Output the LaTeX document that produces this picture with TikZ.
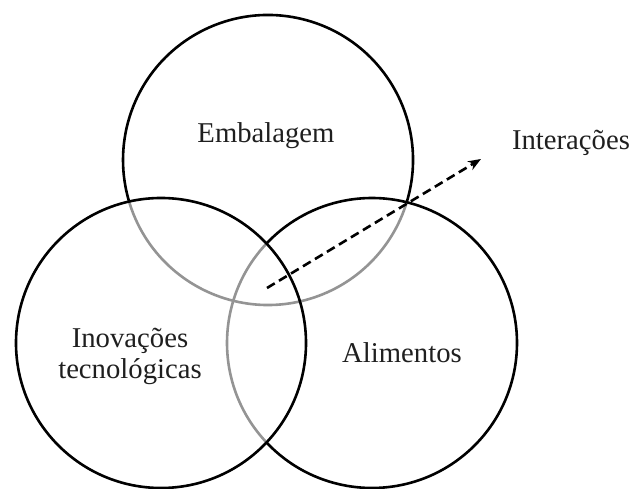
\documentclass[tikz,border=0pt]{standalone}
\usepackage{fontspec}
\setmainfont{Liberation Serif}
\usetikzlibrary{arrows.meta}
\begin{document}
\begin{tikzpicture}[x=1pt,y=1pt,
  ring/.style={line width=2.6pt, draw=black},
  hidden/.style={line width=2.6pt, draw=black!42},
  lbl/.style={font=\fontsize{28.7}{31}\selectfont, inner sep=0pt, text=black!88},
  flow/.style={line width=2.6pt, dash pattern=on 9pt off 5pt, -{Stealth[length=13pt,width=10pt]}}]
\useasboundingbox (0,0) rectangle (635,489);
\coordinate (T) at (268,329);
\coordinate (L) at (161,146);
\coordinate (R) at (372,146);
% hidden (gray) parts
\draw[hidden] (T) ++(196.7:145) arc[start angle=196.7, end angle=343.1, radius=145];
\draw[hidden] (R) ++(136.7:145) arc[start angle=136.7, end angle=223.3, radius=145];
% visible (black) parts
\draw[ring] (T) ++(-16.9:145) arc[start angle=-16.9, end angle=196.7, radius=145];
\draw[ring] (R) ++(-136.7:145) arc[start angle=-136.7, end angle=136.7, radius=145];
\draw[ring] (L) circle[radius=145];
% labels
\node[lbl, anchor=base] (emb) at (266,346) {Embalagem};
\node[lbl, align=center] (ino) at (130,133) {Inovações\\tecnológicas};
\node[lbl, anchor=base] (ali) at (402,126) {Alimentos};
\node[lbl, anchor=base] (int) at (571,339) {Interações};
% interaction arrow
\coordinate (a0) at (267,201);
\coordinate (a1) at (481,330);
\draw[flow] (a0) -- (a1);
\end{tikzpicture}
\end{document}
